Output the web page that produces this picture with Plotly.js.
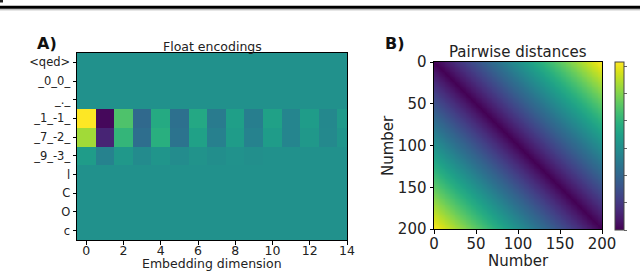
<!DOCTYPE html>
<html>
<head>
<meta charset="utf-8">
<script src="https://cdn.plot.ly/plotly-3.0.1.min.js"></script>
<style>html,body{margin:0;padding:0;background:#fff;}#chart{width:640px;height:272px;}</style>
</head>
<body>
<div id="chart"></div>
<script>
// ---- Panel A: float encodings (token rows x embedding dimension) ----
const tokenLabels = ['<qed>', '_0_0_', '_._', '_1_-1_', '_7_-2_', '_9_-3_', 'l', 'C', 'O', 'c'];
const embeddingDims = [0,1,2,3,4,5,6,7,8,9,10,11,12,13,14];
const rowQed   = [0,0,0,0,0,0,0,0,0,0,0,0,0,0,0];
const row00    = [0,0,0,0,0,0,0,0,0,0,0,0,0,0,0];
const rowDot   = [0,0,0,0,0,0,0,0,0,0,0,0,0,0,0];
const row1m1   = [1.0,-0.96,0.44,-0.32,0.22,-0.26,0.2,-0.18,0.12,-0.15,0.14,-0.1,0.1,-0.07,0.08];
const row7m2   = [0.72,-0.8,0.32,-0.28,0.26,-0.24,0.14,-0.14,0.1,-0.12,0.1,-0.1,0.06,-0.06,0.04];
const row9m3   = [0.1,-0.12,0.06,-0.05,0.04,-0.04,0.02,-0.02,0.01,-0.01,0,0,0,0,0];
const rowL     = [0,0,0,0,0,0,0,0,0,0,0,0,0,0,0];
const rowC     = [0,0,0,0,0,0,0,0,0,0,0,0,0,0,0];
const rowO     = [0,0,0,0,0,0,0,0,0,0,0,0,0,0,0];
const rowc     = [0,0,0,0,0,0,0,0,0,0,0,0,0,0,0];
const encodingRows = [rowQed,row00,rowDot,row1m1,row7m2,row9m3,rowL,rowC,rowO,rowc];
const xTicksA = [0,2,4,6,8,10,12,14];

// ---- Panel B: pairwise distances between numbers 0..200 ----
const numbers = [];
for (let n = 0; n <= 200; n++) numbers.push(n);
const distances = numbers.map(a => numbers.map(b => Math.abs(a - b)));
const axisTicksB = [0,50,100,150,200];
const colorbarTicks = [0,32.5,65,97.5,130,162.5,195];

const W = 640, H = 272;
const px = v => v / W;
const py = v => 1 - v / H;
const font = 'DejaVu Sans, Verdana, sans-serif';
const ink = '#222';

const traceA = {
  type: 'heatmap',
  x: embeddingDims,
  y: tokenLabels,
  z: encodingRows,
  colorscale: 'Viridis',
  zmin: -1, zmax: 1,
  showscale: false,
  xaxis: 'x', yaxis: 'y',
  hoverinfo: 'skip'
};

const traceB = {
  type: 'heatmap',
  x: numbers,
  y: numbers,
  z: distances,
  colorscale: 'Viridis',
  zmin: 0, zmax: 200,
  xaxis: 'x2', yaxis: 'y2',
  hoverinfo: 'skip',
  colorbar: {
    x: px(615), xanchor: 'left', xpad: 0,
    y: py(146), yanchor: 'middle', ypad: 0,
    len: 168 / H, lenmode: 'fraction',
    thickness: 9, thicknessmode: 'pixels',
    outlinewidth: 1, outlinecolor: '#444',
    tickmode: 'array', tickvals: colorbarTicks,
    ticks: 'outside', ticklen: 3, tickcolor: '#666',
    showticklabels: false
  }
};

const axisCommon = {
  showline: true, mirror: true, linecolor: '#000', linewidth: 1,
  ticks: 'outside', ticklen: 3.5, tickcolor: '#000', tickwidth: 1,
  showgrid: false, zeroline: false, fixedrange: true
};

const layout = {
  width: W, height: H,
  margin: {l: 0, r: 0, t: 0, b: 0},
  paper_bgcolor: '#fff', plot_bgcolor: '#fff',
  font: {family: font, color: ink},
  showlegend: false,
  xaxis: Object.assign({}, axisCommon, {
    domain: [px(77), px(347)], range: [-0.5, 14],
    tickmode: 'array', tickvals: xTicksA, ticktext: xTicksA.map(String),
    tickfont: {size: 12.5, color: ink}, anchor: 'y', ticklabelstandoff: -5
  }),
  yaxis: Object.assign({}, axisCommon, {
    domain: [py(240), py(53)], range: [9.5, -0.5], type: 'category',
    tickfont: {size: 11.5, color: ink}, anchor: 'x'
  }),
  xaxis2: Object.assign({}, axisCommon, {
    domain: [px(434), px(602)], range: [0, 200],
    tickmode: 'array', tickvals: axisTicksB,
    tickfont: {size: 15, color: ink}, anchor: 'y2', ticklabelstandoff: -3
  }),
  yaxis2: Object.assign({}, axisCommon, {
    domain: [py(229), py(62)], range: [200, 0],
    tickmode: 'array', tickvals: axisTicksB,
    tickfont: {size: 15, color: ink}, anchor: 'x2'
  }),
  annotations: [
    {text: 'A)', x: px(47), y: py(44), xref: 'paper', yref: 'paper', showarrow: false,
     font: {size: 16, color: '#111', family: font, weight: 'bold'}, xanchor: 'center', yanchor: 'middle'},
    {text: 'Float encodings', x: px(212), y: py(46), xref: 'paper', yref: 'paper', showarrow: false,
     font: {size: 12.5, color: ink, family: font}, xanchor: 'center', yanchor: 'middle'},
    {text: 'Embedding dimension', x: px(212), y: py(263), xref: 'paper', yref: 'paper', showarrow: false,
     font: {size: 12.5, color: ink, family: font}, xanchor: 'center', yanchor: 'middle'},
    {text: 'B)', x: px(395), y: py(44), xref: 'paper', yref: 'paper', showarrow: false,
     font: {size: 16, color: '#111', family: font, weight: 'bold'}, xanchor: 'center', yanchor: 'middle'},
    {text: 'Pairwise distances', x: px(518), y: py(52), xref: 'paper', yref: 'paper', showarrow: false,
     font: {size: 15, color: ink, family: font}, xanchor: 'center', yanchor: 'middle'},
    {text: 'Number', x: px(518), y: py(261), xref: 'paper', yref: 'paper', showarrow: false,
     font: {size: 15, color: ink, family: font}, xanchor: 'center', yanchor: 'middle'},
    {text: 'Number', x: px(388), y: py(146), xref: 'paper', yref: 'paper', showarrow: false, textangle: -90,
     font: {size: 15, color: ink, family: font}, xanchor: 'center', yanchor: 'middle'}
  ],
  shapes: [
    {type: 'line', xref: 'paper', yref: 'paper', x0: 0, x1: 1, y0: py(7.3), y1: py(7.3),
     line: {color: '#000', width: 3}},
    {type: 'line', xref: 'paper', yref: 'paper', x0: 0, x1: 1, y0: py(9.8), y1: py(9.8),
     line: {color: '#aaa', width: 1}},
    {type: 'rect', xref: 'paper', yref: 'paper', x0: 0, x1: px(3), y0: py(2.5), y1: 1,
     fillcolor: '#222', line: {width: 0}}
  ]
};

Plotly.newPlot('chart', [traceA, traceB], layout, {staticPlot: true, displayModeBar: false});
</script>
</body>
</html>
